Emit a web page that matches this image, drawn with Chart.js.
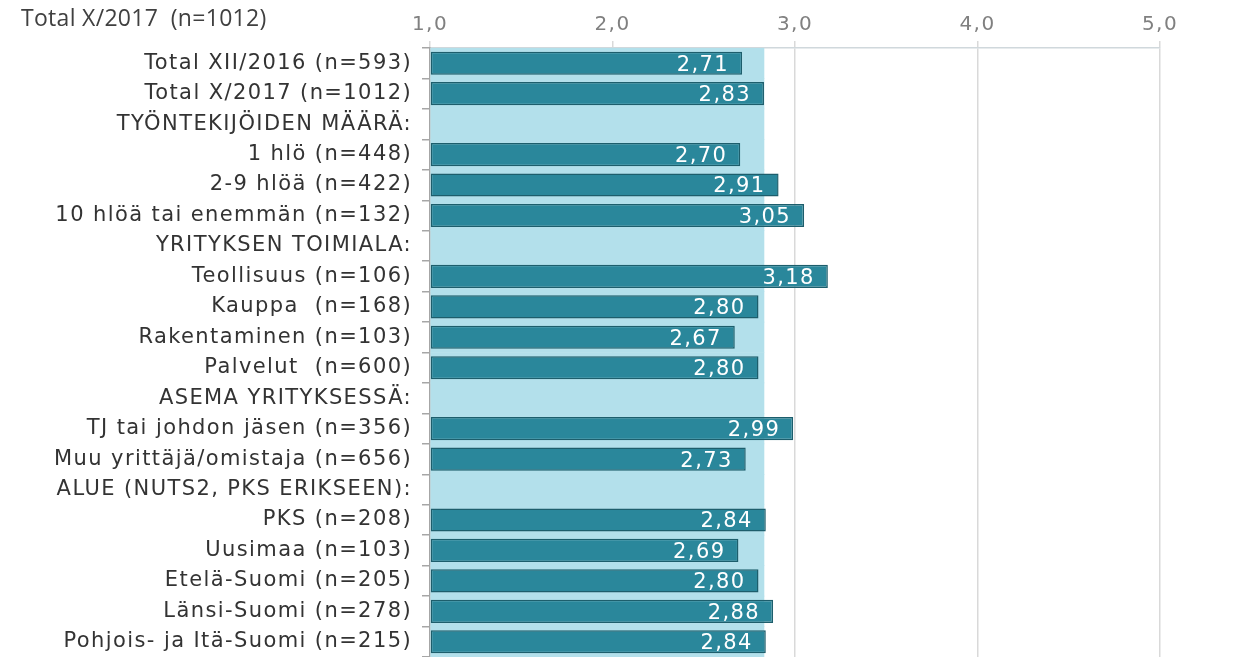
<!DOCTYPE html>
<html>
<head>
<meta charset="utf-8">
<script src="https://cdn.jsdelivr.net/npm/chart.js@4.4.0/dist/chart.umd.min.js"></script>
<style>
  html, body { margin: 0; padding: 0; background: #fff; }
  #wrap { position: relative; width: 1245px; height: 657px; }
  #legend { position: absolute; left: 21px; top: 1px; font-family: "Open Sans", sans-serif; font-size: 23px; color: #404040; white-space: pre; letter-spacing: 0.3px; }
</style>
</head>
<body>
<div id="wrap">
  <canvas id="c" width="1245" height="657"></canvas>
  <div id="legend"></div>
</div>
<script>
const categories = [
  "Total XII/2016 (n=593)",
  "Total X/2017 (n=1012)",
  "TYÖNTEKIJÖIDEN MÄÄRÄ:",
  "1 hlö (n=448)",
  "2-9 hlöä (n=422)",
  "10 hlöä tai enemmän (n=132)",
  "YRITYKSEN TOIMIALA:",
  "Teollisuus (n=106)",
  "Kauppa  (n=168)",
  "Rakentaminen (n=103)",
  "Palvelut  (n=600)",
  "ASEMA YRITYKSESSÄ:",
  "TJ tai johdon jäsen (n=356)",
  "Muu yrittäjä/omistaja (n=656)",
  "ALUE (NUTS2, PKS ERIKSEEN):",
  "PKS (n=208)",
  "Uusimaa (n=103)",
  "Etelä-Suomi (n=205)",
  "Länsi-Suomi (n=278)",
  "Pohjois- ja Itä-Suomi (n=215)"
];
const values = [2.71, 2.83, null, 2.70, 2.91, 3.05, null, 3.18, 2.80, 2.67, 2.80, null, 2.99, 2.73, null, 2.84, 2.69, 2.80, 2.88, 2.84];
const referenceLabel = "Total X/2017  (n=1012)";
const referenceValue = 2.83;
const xTicks = [1, 2, 3, 4, 5];

document.getElementById('legend').textContent = referenceLabel;

const fmt = v => v.toFixed(2).replace('.', ',');
const SPACING = '1.4px';

const spacingPlugin = {
  id: 'spacing',
  beforeUpdate(chart) { chart.ctx.letterSpacing = SPACING; },
  beforeDraw(chart) { chart.ctx.letterSpacing = SPACING; }
};

const valueLabels = {
  id: 'valueLabels',
  afterDatasetsDraw(chart) {
    const ctx = chart.ctx;
    const meta = chart.getDatasetMeta(0);
    ctx.save();
    ctx.letterSpacing = SPACING;
    ctx.font = '21px "DejaVu Sans", sans-serif';
    ctx.fillStyle = '#ffffff';
    ctx.textAlign = 'right';
    ctx.textBaseline = 'middle';
    meta.data.forEach((bar, i) => {
      const v = values[i];
      if (v == null) return;
      ctx.fillText(fmt(v), bar.x - 13, bar.y + 2);
    });
    ctx.restore();
  }
};

new Chart(document.getElementById('c'), {
  type: 'bar',
  data: {
    labels: categories,
    datasets: [
      {
        label: 'values',
        data: values,
        backgroundColor: '#2a879b',
        borderColor: '#1d5e6c',
        borderWidth: 1.5,
        borderSkipped: false,
        barPercentage: 0.76,
        categoryPercentage: 1,
        grouped: false,
        order: 1
      },
      {
        label: referenceLabel,
        data: categories.map(() => referenceValue),
        backgroundColor: '#b3e0eb',
        borderWidth: 0,
        barPercentage: 1,
        categoryPercentage: 1,
        grouped: false,
        order: 2
      }
    ]
  },
  options: {
    indexAxis: 'y',
    responsive: false,
    animation: false,
    events: [],
    layout: { padding: { left: 0, right: 85, top: 0, bottom: 0 } },
    plugins: { legend: { display: false }, tooltip: { enabled: false } },
    datasets: { bar: { base: 1 } },
    scales: {
      x: {
        position: 'top',
        min: 1, max: 5,
        afterFit(s) { s.height = 48; },
        afterBuildTicks(s) { s.ticks = xTicks.map(v => ({ value: v })); },
        ticks: {
          color: '#808080',
          font: { family: '"DejaVu Sans", sans-serif', size: 20 },
          padding: 4,
          callback: v => v.toFixed(1).replace('.', ',')
        },
        grid: { color: '#d9d9d9', lineWidth: 1.5, tickLength: 7 },
        border: { color: '#d0d8dc', width: 1.5 }
      },
      y: {
        afterFit(s) { s.width = 430; s.paddingTop = 0; s.paddingBottom = 0; },
        ticks: {
          color: '#333333',
          font: { family: '"DejaVu Sans", sans-serif', size: 21 },
          padding: 10,
          autoSkip: false
        },
        grid: { offset: true, drawOnChartArea: false, color: '#a6a6a6', tickLength: 8, lineWidth: 1.5 },
        border: { color: '#a6a6a6', width: 1.5 }
      }
    }
  },
  plugins: [spacingPlugin, valueLabels]
});
</script>
</body>
</html>
